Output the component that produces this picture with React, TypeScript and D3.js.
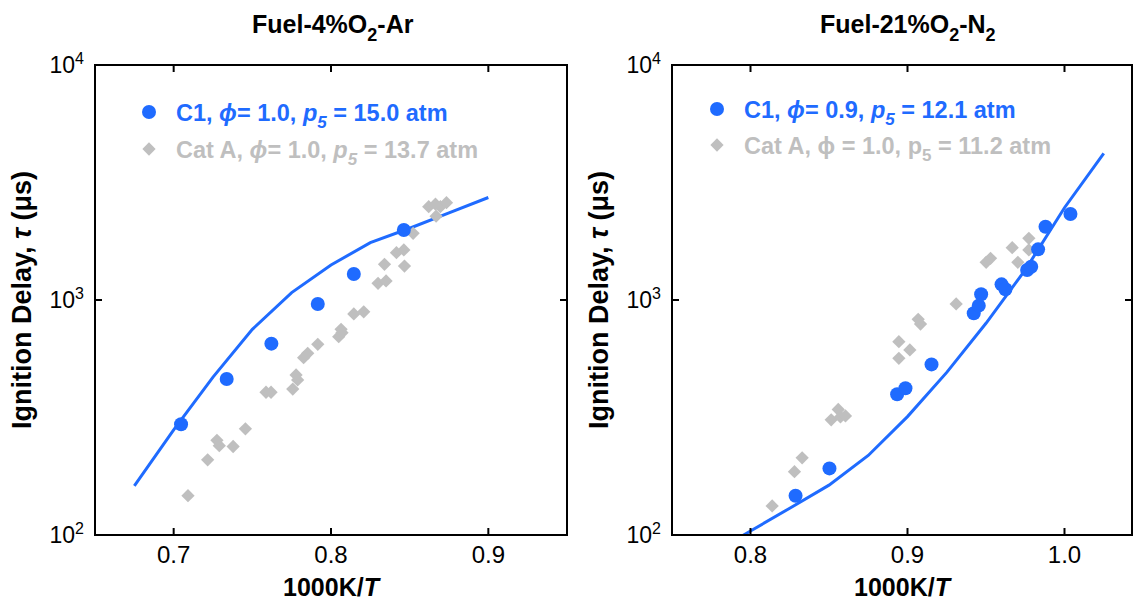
import React, { useRef, useEffect } from 'react';
import * as d3 from 'd3';

const WIDTH = 1133;
const HEIGHT = 603;
const BLUE = '#1f6bff';
const GRAY = '#bfbfbf';
const FONT = '"Liberation Sans", Arial, Helvetica, sans-serif';

// ---- Fuel-4%O2-Ar ----
const arC1X = [0.7047, 0.7337, 0.7621, 0.7916, 0.8145, 0.8463];
const arC1Tau = [296, 461, 652, 962, 1290, 1985];
const arCatX = [0.7091, 0.7216, 0.7275, 0.729, 0.7378, 0.7456, 0.7587, 0.7619, 0.7757, 0.7778, 0.7788,
  0.7826, 0.7852, 0.7916, 0.8049, 0.8064, 0.807, 0.8145, 0.8208, 0.8299, 0.835, 0.834, 0.8416, 0.8463,
  0.8467, 0.8522, 0.8621, 0.8664, 0.8668, 0.8695, 0.8734];
const arCatTau = [147, 209, 253, 240, 238, 283, 405, 405, 418, 480, 457, 568, 593, 648, 698, 750, 726, 872,
  891, 1178, 1205, 1419, 1590, 1634, 1395, 1922, 2495, 2558, 2274, 2495, 2595];
const arModelX = [0.675, 0.7, 0.725, 0.75, 0.775, 0.8, 0.825, 0.85, 0.875, 0.9];
const arModelTau = [162, 280, 470, 750, 1075, 1410, 1753, 2020, 2350, 2730];
const arXTicks = [0.7, 0.8, 0.9];

// ---- Fuel-21%O2-N2 ----
const n2C1X = [0.8287, 0.8503, 0.8934, 0.8987, 0.9153, 0.9422, 0.9454, 0.9469, 0.9599, 0.9624, 0.9762,
  0.9788, 0.9832, 0.9879, 1.0038];
const n2C1Tau = [147, 192, 397, 421, 532, 878, 946, 1058, 1166, 1111, 1342, 1386, 1643, 2051, 2323];
const n2CatX = [0.8138, 0.828, 0.8329, 0.8514, 0.8559, 0.8573, 0.8605, 0.8945, 0.8945, 0.9015, 0.9068,
  0.9083, 0.931, 0.9501, 0.9529, 0.9667, 0.9703, 0.9773, 0.9773];
const n2CatTau = [133, 186, 213, 309, 342, 318, 321, 665, 565, 613, 828, 790, 962, 1446, 1504, 1670, 1446,
  1830, 1634];
const n2ModelX = [0.775, 0.8, 0.825, 0.85, 0.875, 0.9, 0.925, 0.95, 0.975, 1.0, 1.025];
const n2ModelTau = [83, 104, 130, 163, 218, 319, 492, 796, 1342, 2470, 4210];
const n2XTicks = [0.8, 0.9, 1.0];

const yTickExp = [2, 3, 4];

type Seg = { t: string; it?: boolean; sub?: boolean; sup?: boolean; size?: number; shift?: number };

function rich(sel: any, segs: Seg[], base: number) {
  let cur = 0;
  segs.forEach(s => {
    const target = s.sub ? (s.shift ?? base * 0.35) : s.sup ? -(s.shift ?? base * 0.4) : 0;
    const ts = sel.append('tspan').text(s.t).attr('dy', target - cur);
    cur = target;
    if (s.it) ts.style('font-style', 'italic');
    if (s.sub || s.sup) ts.style('font-size', `${s.size ?? base * 0.72}px`);
  });
}

const panels = [
  {
    key: 'ar',
    range: [95, 567],
    domain: [0.65, 0.95],
    ticks: arXTicks,
    c1: arC1X.map((x, i) => ({ x, tau: arC1Tau[i] })),
    cat: arCatX.map((x, i) => ({ x, tau: arCatTau[i] })),
    model: arModelX.map((x, i) => ({ x, tau: arModelTau[i] })),
    titleX: 252,
    title: [{ t: 'Fuel-4%O' }, { t: '2', sub: true, size: 18, shift: 8 }, { t: '-Ar' }],
    legX: 149,
    legY: [112, 149],
    leg1: [{ t: 'C1, ' }, { t: 'ϕ', it: true }, { t: '= 1.0, ' }, { t: 'p', it: true },
      { t: '5', it: true, sub: true, size: 17, shift: 7 }, { t: ' = 15.0 atm' }],
    leg2: [{ t: 'Cat A, ' }, { t: 'ϕ', it: true }, { t: '= 1.0, ' }, { t: 'p', it: true },
      { t: '5', it: true, sub: true, size: 17, shift: 7 }, { t: ' = 13.7 atm' }],
  },
  {
    key: 'n2',
    range: [672, 1132],
    domain: [0.75, 1.043],
    ticks: n2XTicks,
    c1: n2C1X.map((x, i) => ({ x, tau: n2C1Tau[i] })),
    cat: n2CatX.map((x, i) => ({ x, tau: n2CatTau[i] })),
    model: n2ModelX.map((x, i) => ({ x, tau: n2ModelTau[i] })),
    titleX: 820,
    title: [{ t: 'Fuel-21%O' }, { t: '2', sub: true, size: 18, shift: 8 }, { t: '-N' },
      { t: '2', sub: true, size: 18, shift: 8 }],
    legX: 717,
    legY: [109, 145],
    leg1: [{ t: 'C1, ' }, { t: 'ϕ', it: true }, { t: '= 0.9, ' }, { t: 'p', it: true },
      { t: '5', it: true, sub: true, size: 17, shift: 7 }, { t: ' = 12.1 atm' }],
    leg2: [{ t: 'Cat A, ϕ = 1.0, p' }, { t: '5', sub: true, size: 17, shift: 7 }, { t: ' = 11.2 atm' }],
  },
];

function App() {
  const svgRef = useRef<SVGSVGElement>(null);

  useEffect(() => {
    const svg = d3.select(svgRef.current);
    svg.selectAll('*').remove();

    const top = 65;
    const bottom = 535;
    const y = d3.scaleLog().domain([100, 10000]).range([bottom, top]);

    panels.forEach(p => {
      const x = d3.scaleLinear().domain(p.domain).range(p.range);
      const [left, right] = p.range;
      const g = svg.append('g').attr('font-family', FONT);

      // clip the model curve to the frame
      const clipId = `clip-${p.key}`;
      svg.append('clipPath').attr('id', clipId)
        .append('rect').attr('x', left).attr('y', top).attr('width', right - left).attr('height', bottom - top);

      // model line
      const line = d3.line<{ x: number; tau: number }>().x(d => x(d.x)).y(d => y(d.tau));
      g.append('path')
        .datum(p.model)
        .attr('clip-path', `url(#${clipId})`)
        .attr('d', line)
        .attr('fill', 'none')
        .attr('stroke', BLUE)
        .attr('stroke-width', 3);

      // Cat A diamonds
      const diamond = d3.symbol().type(d3.symbolSquare).size(88);
      g.selectAll('path.cat')
        .data(p.cat)
        .enter()
        .append('path')
        .attr('class', 'cat')
        .attr('d', diamond)
        .attr('transform', d => `translate(${x(d.x)},${y(d.tau)}) rotate(45)`)
        .attr('fill', GRAY);

      // C1 circles
      g.selectAll('circle.c1')
        .data(p.c1)
        .enter()
        .append('circle')
        .attr('class', 'c1')
        .attr('cx', d => x(d.x))
        .attr('cy', d => y(d.tau))
        .attr('r', 7)
        .attr('fill', BLUE);

      // frame
      g.append('rect')
        .attr('x', left).attr('y', top)
        .attr('width', right - left).attr('height', bottom - top)
        .attr('fill', 'none').attr('stroke', '#000').attr('stroke-width', 2);

      // x ticks (inward, top and bottom)
      p.ticks.forEach(t => {
        const px = x(t);
        g.append('line').attr('x1', px).attr('x2', px).attr('y1', bottom).attr('y2', bottom - 7)
          .attr('stroke', '#000').attr('stroke-width', 2);
        g.append('line').attr('x1', px).attr('x2', px).attr('y1', top).attr('y2', top + 7)
          .attr('stroke', '#000').attr('stroke-width', 2);
        g.append('text')
          .attr('x', px).attr('y', 563)
          .attr('text-anchor', 'middle')
          .style('font-size', '24px')
          .text(t.toFixed(1));
      });

      // y ticks
      yTickExp.forEach(e => {
        const py = y(Math.pow(10, e));
        g.append('line').attr('x1', left).attr('x2', left + 7).attr('y1', py).attr('y2', py)
          .attr('stroke', '#000').attr('stroke-width', 2);
        g.append('line').attr('x1', right).attr('x2', right - 7).attr('y1', py).attr('y2', py)
          .attr('stroke', '#000').attr('stroke-width', 2);
        const t = g.append('text')
          .attr('x', left - 11).attr('y', py + 8)
          .attr('text-anchor', 'end')
          .style('font-size', '23px');
        rich(t, [{ t: '10' }, { t: String(e), sup: true, size: 16, shift: 9 }], 23);
      });

      // x title
      const xt = g.append('text')
        .attr('x', (left + right) / 2).attr('y', 596)
        .attr('text-anchor', 'middle')
        .style('font-size', '25px').style('font-weight', 'bold');
      rich(xt, [{ t: '1000K/' }, { t: 'T', it: true }], 25);

      // y title
      const yt = g.append('text')
        .attr('transform', `translate(${left - 64},${(top + bottom) / 2}) rotate(-90)`)
        .attr('text-anchor', 'middle')
        .style('font-size', '27px').style('font-weight', 'bold');
      rich(yt, [{ t: 'Ignition Delay, ' }, { t: 'τ', it: true }, { t: ' (μs)' }], 27);

      // panel title
      const tt = g.append('text')
        .attr('x', p.titleX).attr('y', 33)
        .style('font-size', '25px').style('font-weight', 'bold');
      rich(tt, p.title as Seg[], 25);

      // legend
      const lx = p.legX;
      g.append('circle').attr('cx', lx).attr('cy', p.legY[0]).attr('r', 7).attr('fill', BLUE);
      g.append('path').attr('d', diamond)
        .attr('transform', `translate(${lx},${p.legY[1]}) rotate(45)`)
        .attr('fill', GRAY);
      const l1 = g.append('text').attr('x', lx + 27).attr('y', p.legY[0] + 9)
        .style('font-size', '23.5px').style('font-weight', 'bold').attr('fill', BLUE);
      rich(l1, p.leg1 as Seg[], 23.5);
      const l2 = g.append('text').attr('x', lx + 27).attr('y', p.legY[1] + 9)
        .style('font-size', '23.5px').style('font-weight', 'bold').attr('fill', GRAY);
      rich(l2, p.leg2 as Seg[], 23.5);
    });
  }, []);

  return (
    <svg
      ref={svgRef}
      width={WIDTH}
      height={HEIGHT}
      style={{ position: 'absolute', left: 0, top: 0, background: '#fff' }}
    />
  );
}

export default App;
